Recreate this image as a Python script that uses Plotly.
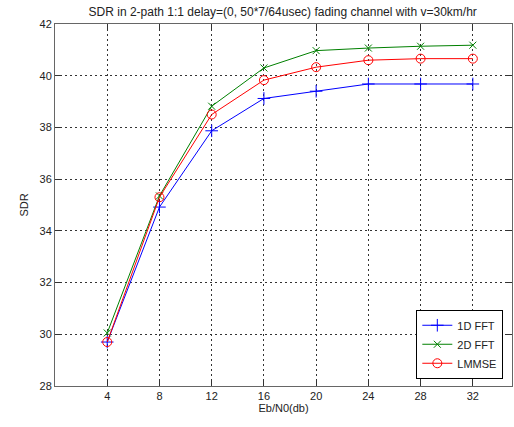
import plotly.graph_objects as go

ebn0 = [4, 8, 12, 16, 20, 24, 28, 32]
sdr_1d_fft = [29.7, 34.92, 37.87, 39.12, 39.4, 39.68, 39.68, 39.68]
sdr_2d_fft = [30.05, 35.35, 38.82, 40.3, 40.97, 41.07, 41.14, 41.18]
sdr_lmmse = [29.7, 35.3, 38.5, 39.83, 40.33, 40.6, 40.66, 40.66]
x_ticks = [4, 8, 12, 16, 20, 24, 28, 32]
y_ticks = [28, 30, 32, 34, 36, 38, 40, 42]

fam = "Liberation Sans, Arial, sans-serif"
font = dict(family=fam, size=11, color="#222")

fig = go.Figure()
fig.add_trace(go.Scatter(x=ebn0, y=sdr_1d_fft, name="1D FFT", mode="lines+markers",
                         line=dict(color="#0000ff", width=1),
                         marker=dict(symbol="cross-thin-open", size=9,
                                     line=dict(color="#0000ff", width=1))))
fig.add_trace(go.Scatter(x=ebn0, y=sdr_2d_fft, name="2D FFT", mode="lines+markers",
                         line=dict(color="#008000", width=1),
                         marker=dict(symbol="x-thin-open", size=7,
                                     line=dict(color="#008000", width=1))))
fig.add_trace(go.Scatter(x=ebn0, y=sdr_lmmse, name="LMMSE", mode="lines+markers",
                         line=dict(color="#ff0000", width=1),
                         marker=dict(symbol="circle-open", size=9,
                                     line=dict(color="#ff0000", width=1))))

axis_common = dict(showline=True, linecolor="#666", linewidth=1, mirror="ticks",
                   ticks="inside", ticklen=5, tickcolor="#333",
                   showgrid=True, gridcolor="#333", gridwidth=1, griddash="2px,3px",
                   zeroline=False, tickfont=font, automargin=False)

fig.update_xaxes(range=[0, 35], tickvals=x_ticks, title=dict(text="Eb/N0(db)", font=font, standoff=2),
                 **axis_common)
fig.update_yaxes(range=[28, 42], tickvals=y_ticks, title=dict(text="SDR", font=font, standoff=8),
                 **axis_common)

fig.update_layout(
    width=514, height=427,
    margin=dict(l=55, r=2, t=24, b=41, autoexpand=False),
    paper_bgcolor="white", plot_bgcolor="white",
    font=font,
    title=dict(text="SDR in 2-path 1:1 delay=(0, 50*7/64usec) fading channel with v=30km/hr",
               x=0.55, xanchor="center", y=0.972, yanchor="middle",
               font=dict(size=12, color="#222", family=fam)),
    legend=dict(x=0.981, y=0.02, xanchor="right", yanchor="bottom",
                bordercolor="#000", borderwidth=1, bgcolor="white",
                font=dict(size=11, color="#222", family=fam),
                tracegroupgap=0, itemwidth=30),
    showlegend=True,
)

fig.write_html("out.html", config={"displayModeBar": False},
               post_script="document.body.style.margin='0px';")
